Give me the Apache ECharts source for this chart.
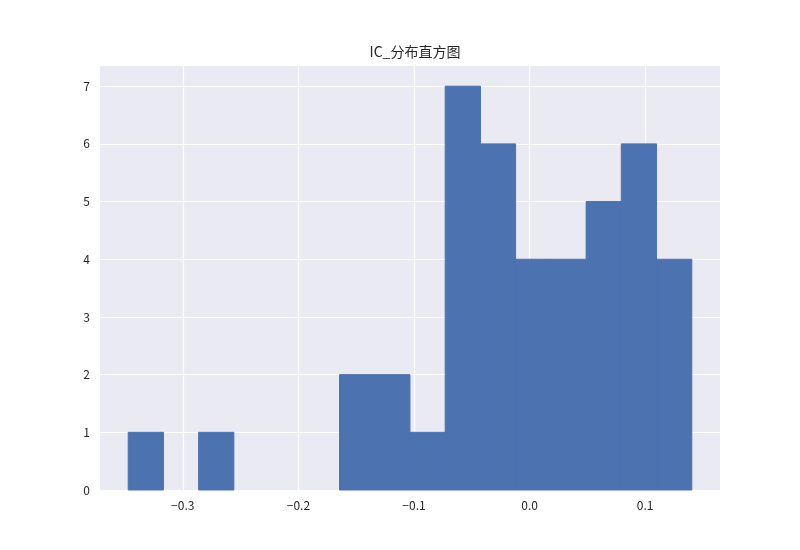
<!DOCTYPE html>
<html>
<head>
<meta charset="utf-8">
<script src="https://cdn.jsdelivr.net/npm/echarts@6/dist/echarts.min.js"></script>
<style>
  html, body { margin: 0; padding: 0; background: #fff; }
  #chart { width: 800px; height: 550px; }
</style>
</head>
<body>
<div id="chart"></div>
<script>
// bin edges (17) and counts (16)
const binEdges = [-0.3472, -0.3167, -0.2863, -0.2558, -0.2253, -0.1949, -0.1644, -0.1339,
    -0.1035, -0.0730, -0.0425, -0.0121, 0.0184, 0.0489, 0.0793, 0.1098, 0.1403];
const counts = [1, 0, 1, 0, 0, 0, 2, 2, 1, 7, 6, 4, 4, 5, 6, 4];
const xTicks = [-0.3, -0.2, -0.1, 0.0, 0.1];
const yTicks = [0, 1, 2, 3, 4, 5, 6, 7];

const font = '"Noto Sans CJK SC", "DejaVu Sans", sans-serif';
const textColor = '#262626';

const bins = counts.map((c, i) => [binEdges[i], binEdges[i + 1], c]);

const myChart = echarts.init(document.getElementById('chart'));
var option = {
    animation: false,
    backgroundColor: '#ffffff',
    title: {
        text: 'IC_分布直方图',
        left: 410,
        top: 40,
        textAlign: 'center',
        textStyle: {
            fontFamily: font,
            fontSize: 14,
            fontWeight: 'normal',
            color: textColor
        }
    },
    grid: {
        show: true,
        left: 100,
        right: 80,
        top: 66,
        bottom: 60,
        backgroundColor: '#EAEAF2',
        borderWidth: 0
    },
    xAxis: {
        type: 'value',
        min: -0.3716,
        max: 0.1647,
        axisLine: { show: false },
        axisTick: { show: false },
        splitLine: { show: false },
        axisLabel: {
            customValues: xTicks,
            margin: 9,
            fontFamily: font,
            fontSize: 12,
            color: textColor,
            formatter: v => v.toFixed(1).replace('-', '−')
        }
    },
    yAxis: {
        type: 'value',
        min: 0,
        max: 7.35,
        axisLine: { show: false },
        axisTick: { show: false },
        splitLine: { show: false },
        axisLabel: {
            customValues: yTicks,
            margin: 10,
            fontFamily: font,
            fontSize: 12,
            color: textColor
        }
    },
    series: [
        {
            // 网格线 (drawn under the bars)
            type: 'line',
            data: [],
            z: 1,
            silent: true,
            markLine: {
                z: 1,
                silent: true,
                symbol: 'none',
                animation: false,
                label: { show: false },
                emphasis: { disabled: true },
                lineStyle: { color: '#ffffff', width: 1.2, type: 'solid' },
                data: xTicks.map(v => ({ xAxis: v }))
                    .concat(yTicks.map(v => ({ yAxis: v })))
            }
        },
        {
            type: 'custom',
            z: 3,
            data: bins,
            renderItem: function (params, api) {
                if (api.value(2) <= 0) return null; // 空箱不画
                const p0 = api.coord([api.value(0), api.value(2)]);
                const p1 = api.coord([api.value(1), 0]);
                return {
                    type: 'rect',
                    shape: { x: p0[0], y: p0[1], width: p1[0] - p0[0], height: p1[1] - p0[1] },
                    style: { fill: '#4C72B0', stroke: '#4C72B0', lineWidth: 1 }
                };
            }
        }
    ]
};
myChart.setOption(option);
</script>
</body>
</html>
